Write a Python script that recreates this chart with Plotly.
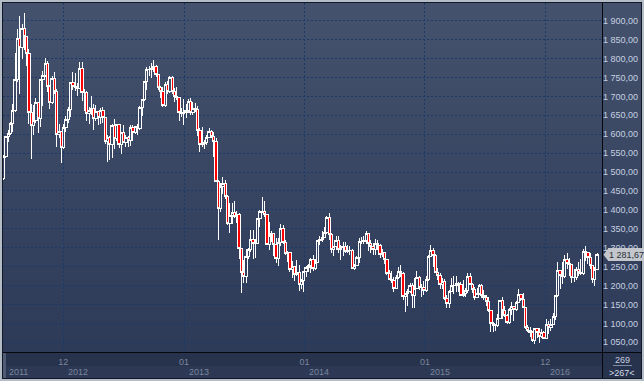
import base64
import pandas as pd
import plotly.graph_objects as go

# ---------------- data (weekly gold candles) ----------------
week_start = "2011-07-04"
n_weeks = 258

open_ = [
    1483, 1542, 1594, 1601, 1628, 1663, 1744, 1852, 1828, 1880, 1857, 1813, 1657, 1624, 1635, 1683, 1642, 1745, 1754, 1788, 1725, 1684, 1746, 1712, 1598, 1606,
    1566, 1617, 1639, 1665, 1736, 1725, 1724, 1722, 1775, 1710, 1711, 1656, 1662, 1669, 1641, 1659, 1643, 1663, 1645, 1580, 1592, 1572, 1622, 1590, 1627, 1572,
    1604, 1579, 1592, 1584, 1618, 1604, 1621, 1616, 1671, 1692, 1739, 1771, 1772, 1773, 1780, 1757, 1724, 1712, 1676, 1731, 1714, 1751, 1712, 1701, 1696, 1658,
    1656, 1657, 1662, 1687, 1658, 1667, 1666, 1609, 1572, 1576, 1577, 1592, 1608, 1595, 1581, 1476, 1404, 1462, 1470, 1436, 1365, 1386, 1392, 1383, 1387, 1297,
    1234, 1223, 1277, 1295, 1322, 1310, 1312, 1376, 1396, 1395, 1387, 1308, 1332, 1337, 1309, 1272, 1315, 1352, 1314, 1284, 1288, 1243, 1250, 1230, 1235, 1203,
    1214, 1237, 1247, 1254, 1270, 1244, 1262, 1318, 1323, 1326, 1339, 1379, 1335, 1294, 1303, 1318, 1294, 1301, 1302, 1290, 1293, 1292, 1245, 1252, 1274, 1316,
    1317, 1320, 1337, 1310, 1303, 1294, 1310, 1305, 1281, 1287, 1268, 1231, 1215, 1214, 1192, 1222, 1238, 1231, 1171, 1178, 1185, 1201, 1175, 1191, 1222, 1195,
    1196, 1186, 1217, 1277, 1293, 1279, 1234, 1227, 1204, 1212, 1165, 1152, 1183, 1199, 1201, 1206, 1203, 1175, 1178, 1188, 1225, 1204, 1189, 1168, 1180, 1201,
    1173, 1168, 1157, 1133, 1099, 1095, 1094, 1113, 1160, 1134, 1121, 1103, 1137, 1145, 1137, 1156, 1177, 1162, 1142, 1088, 1081, 1076, 1056, 1087, 1075, 1065, 1076,
    1061, 1097, 1089, 1097, 1117, 1173, 1239, 1227, 1223, 1270, 1259, 1255, 1221, 1222, 1243, 1234, 1231, 1290, 1288, 1273, 1252, 1216, 1243,
]
high = [
    1545, 1595, 1610, 1631, 1681, 1815, 1877, 1912, 1890, 1921, 1860, 1825, 1680, 1677, 1695, 1686, 1747, 1767, 1802, 1793, 1729, 1753, 1764, 1719, 1628, 1609,
    1627, 1648, 1673, 1739, 1764, 1763, 1736, 1790, 1792, 1719, 1714, 1672, 1702, 1680, 1677, 1660, 1668, 1672, 1646, 1597, 1595, 1627, 1640, 1628, 1628, 1606,
    1625, 1597, 1596, 1625, 1625, 1623, 1626, 1675, 1694, 1740, 1777, 1780, 1788, 1796, 1784, 1759, 1728, 1724, 1737, 1740, 1754, 1755, 1722, 1725, 1697, 1668,
    1694, 1680, 1693, 1696, 1684, 1683, 1674, 1616, 1619, 1584, 1597, 1616, 1610, 1605, 1590, 1480, 1470, 1488, 1478, 1440, 1417, 1418, 1424, 1396, 1392, 1298,
    1268, 1296, 1298, 1348, 1346, 1324, 1377, 1400, 1434, 1424, 1390, 1368, 1345, 1338, 1327, 1326, 1362, 1361, 1321, 1292, 1290, 1265, 1252, 1268, 1255, 1218,
    1238, 1251, 1256, 1272, 1280, 1269, 1320, 1332, 1345, 1355, 1384, 1392, 1338, 1305, 1331, 1331, 1306, 1315, 1315, 1306, 1305, 1296, 1256, 1277, 1325, 1328,
    1332, 1345, 1340, 1320, 1312, 1322, 1320, 1310, 1297, 1290, 1269, 1240, 1238, 1222, 1227, 1250, 1255, 1235, 1180, 1191, 1207, 1207, 1221, 1238, 1225, 1203,
    1213, 1224, 1282, 1307, 1299, 1284, 1246, 1232, 1220, 1218, 1175, 1188, 1219, 1225, 1224, 1209, 1210, 1214, 1194, 1232, 1232, 1207, 1196, 1194, 1205, 1205,
    1187, 1175, 1170, 1135, 1105, 1099, 1126, 1162, 1170, 1147, 1126, 1140, 1157, 1146, 1160, 1191, 1178, 1180, 1143, 1095, 1091, 1080, 1088, 1088, 1088, 1085, 1081,
    1112, 1106, 1112, 1127, 1175, 1263, 1240, 1261, 1280, 1287, 1273, 1256, 1244, 1250, 1262, 1270, 1296, 1304, 1290, 1286, 1253, 1248, 1285,
]
low = [
    1480, 1538, 1579, 1597, 1606, 1660, 1737, 1705, 1800, 1823, 1780, 1628, 1535, 1598, 1630, 1603, 1618, 1674, 1750, 1711, 1667, 1680, 1707, 1565, 1590, 1523,
    1562, 1606, 1629, 1645, 1717, 1713, 1702, 1720, 1688, 1662, 1634, 1628, 1652, 1612, 1634, 1625, 1627, 1629, 1574, 1527, 1532, 1537, 1561, 1581, 1563, 1547,
    1576, 1565, 1567, 1570, 1582, 1600, 1597, 1612, 1648, 1688, 1718, 1753, 1749, 1765, 1752, 1718, 1697, 1673, 1672, 1707, 1710, 1705, 1684, 1690, 1636, 1645,
    1625, 1644, 1656, 1652, 1651, 1660, 1596, 1554, 1565, 1562, 1572, 1590, 1590, 1540, 1473, 1321, 1395, 1443, 1430, 1359, 1338, 1364, 1378, 1366, 1269, 1180,
    1207, 1207, 1271, 1290, 1270, 1274, 1310, 1354, 1392, 1381, 1306, 1294, 1316, 1277, 1259, 1251, 1305, 1310, 1281, 1262, 1235, 1221, 1211, 1225, 1185, 1190,
    1182, 1222, 1236, 1232, 1238, 1240, 1260, 1307, 1316, 1325, 1336, 1321, 1286, 1277, 1293, 1285, 1268, 1277, 1285, 1287, 1282, 1244, 1240, 1251, 1259, 1310,
    1310, 1310, 1292, 1286, 1281, 1282, 1295, 1273, 1276, 1258, 1228, 1214, 1206, 1183, 1190, 1218, 1223, 1161, 1131, 1146, 1180, 1142, 1142, 1190, 1187, 1170,
    1176, 1183, 1213, 1276, 1250, 1232, 1216, 1191, 1191, 1162, 1142, 1142, 1182, 1177, 1183, 1183, 1173, 1169, 1170, 1180, 1201, 1180, 1162, 1166, 1175, 1168,
    1161, 1146, 1130, 1077, 1077, 1080, 1091, 1111, 1112, 1118, 1098, 1098, 1123, 1106, 1133, 1155, 1159, 1141, 1084, 1078, 1065, 1052, 1046, 1062, 1049, 1062, 1058,
    1061, 1072, 1081, 1096, 1109, 1170, 1191, 1205, 1219, 1245, 1225, 1208, 1209, 1215, 1224, 1228, 1228, 1266, 1258, 1245, 1208, 1200, 1241,
]
close = [
    1542, 1594, 1601, 1628, 1663, 1744, 1852, 1828, 1880, 1857, 1813, 1657, 1624, 1635, 1683, 1642, 1745, 1754, 1788, 1725, 1684, 1746, 1712, 1598, 1606, 1566,
    1617, 1639, 1665, 1736, 1725, 1724, 1722, 1775, 1710, 1711, 1656, 1662, 1669, 1641, 1659, 1643, 1663, 1645, 1580, 1592, 1572, 1622, 1590, 1627, 1572, 1604,
    1579, 1592, 1584, 1618, 1604, 1621, 1616, 1671, 1692, 1739, 1771, 1772, 1773, 1780, 1757, 1724, 1712, 1676, 1731, 1714, 1751, 1712, 1701, 1696, 1658, 1656,
    1657, 1662, 1687, 1658, 1667, 1666, 1609, 1572, 1576, 1577, 1592, 1608, 1595, 1581, 1476, 1404, 1462, 1470, 1436, 1365, 1386, 1392, 1383, 1387, 1297, 1234,
    1223, 1277, 1295, 1322, 1310, 1312, 1376, 1396, 1395, 1387, 1308, 1332, 1337, 1309, 1272, 1315, 1352, 1314, 1284, 1288, 1243, 1250, 1230, 1235, 1203, 1214,
    1237, 1247, 1254, 1270, 1244, 1262, 1318, 1323, 1326, 1339, 1379, 1335, 1294, 1303, 1318, 1294, 1301, 1302, 1290, 1293, 1292, 1245, 1252, 1274, 1316, 1317,
    1320, 1337, 1310, 1303, 1294, 1310, 1305, 1281, 1287, 1268, 1231, 1215, 1214, 1192, 1222, 1238, 1231, 1171, 1178, 1185, 1201, 1175, 1191, 1222, 1195, 1196,
    1186, 1217, 1277, 1293, 1279, 1234, 1227, 1204, 1212, 1165, 1152, 1183, 1199, 1201, 1206, 1203, 1175, 1178, 1188, 1225, 1204, 1189, 1168, 1180, 1201, 1173,
    1168, 1157, 1133, 1099, 1095, 1094, 1113, 1160, 1134, 1121, 1103, 1137, 1145, 1137, 1156, 1177, 1162, 1142, 1088, 1081, 1076, 1056, 1087, 1075, 1065, 1076, 1061,
    1097, 1089, 1097, 1117, 1173, 1239, 1227, 1223, 1270, 1259, 1255, 1221, 1222, 1243, 1234, 1231, 1290, 1288, 1273, 1252, 1216, 1243, 1281.67,
]

y_ticks = [1050, 1100, 1150, 1200, 1250, 1300, 1350, 1400, 1450, 1500, 1550, 1600,
           1650, 1700, 1750, 1800, 1850, 1900]
y_tick_labels = ["1 050,00", "1 100,00", "1 150,00", "1 200,00", "1 250,00", "1 300,00",
                 "1 350,00", "1 400,00", "1 450,00", "1 500,00", "1 550,00", "1 600,00",
                 "1 650,00", "1 700,00", "1 750,00", "1 800,00", "1 850,00", "1 900,00"]
x_ticks = ["2012-01-01", "2013-01-01", "2014-01-01", "2015-01-01", "2016-01-01"]
x_tick_labels = ["12", "01", "01", "01", "12"]
year_labels = ["2011", "2012", "2013", "2014", "2015", "2016"]
year_starts = ["2011-07-04", "2012-01-01", "2013-01-01", "2014-01-01", "2015-01-01", "2016-01-01"]
last_price_label = "1 281,67"
bar_count_labels = ["269", ">267<"]

dates = pd.date_range(week_start, periods=n_weeks, freq="7D")

# ---------------- layout geometry ----------------
W, H = 644, 381
ML, MR, MT, MB = 3, 42, 3, 29
PW, PH = W - ML - MR, H - MT - MB

def px_x(px):
    return (px - ML) / PW

def px_y(py):
    return 1 - (py - MT) / PH

svg = f"""<svg xmlns='http://www.w3.org/2000/svg' width='{W}' height='{H}' viewBox='0 0 {W} {H}' shape-rendering='crispEdges'>
<defs><linearGradient id='g' x1='0' y1='0' x2='0' y2='1'>
<stop offset='0' stop-color='#44526d'/><stop offset='1' stop-color='#2d3a58'/></linearGradient></defs>
<rect width='{W}' height='{H}' fill='#b4bcc8'/>
<rect x='2' y='2' width='640' height='377' fill='#121826'/>
<rect x='3' y='3' width='638' height='349' fill='url(#g)'/>
<rect x='3' y='353' width='638' height='25' fill='#27324c'/>
<rect x='3' y='366' width='599' height='12' fill='#2c3854'/>
<rect x='3' y='352' width='638' height='1' fill='#05070c'/>
<rect x='602' y='3' width='1' height='375' fill='#05070c'/>
<rect x='3' y='353' width='3' height='25' fill='#4f5b72'/>
<rect x='613' y='365' width='19' height='1' fill='#7f8ba0'/>
</svg>"""
svg_uri = "data:image/svg+xml;base64," + base64.b64encode(svg.encode()).decode()

fig = go.Figure()
fig.add_trace(go.Candlestick(
    x=dates, open=open_, high=high, low=low, close=close,
    increasing=dict(line=dict(color="#ffffff", width=1), fillcolor="rgba(0,0,0,0)"),
    decreasing=dict(line=dict(color="#ffffff", width=1), fillcolor="#ff0000"),
    whiskerwidth=0, hoverinfo="skip", showlegend=False,
))

font_family = "Liberation Sans, Arial, sans-serif"

fig.update_layout(
    width=W, height=H,
    margin=dict(l=ML, r=MR, t=MT, b=MB, pad=0),
    paper_bgcolor="#b4bcc8", plot_bgcolor="rgba(0,0,0,0)",
    boxgap=0, boxgroupgap=0,
    font=dict(family=font_family, size=9),
    images=[dict(source=svg_uri, xref="paper", yref="paper",
                 x=px_x(0), y=px_y(0), sizex=W / PW, sizey=H / PH,
                 xanchor="left", yanchor="top", sizing="stretch", layer="below")],
    xaxis=dict(
        type="date", range=["2011-07-02 05:00", "2016-06-20 21:00"],
        rangeslider=dict(visible=False),
        tickvals=x_ticks, ticktext=x_tick_labels, ticks="", ticklabelstandoff=3,
        tickfont=dict(color="#7c889d", size=9, family=font_family),
        showgrid=True, gridcolor="#1c396b", gridwidth=1, griddash="2px,2px",
        zeroline=False, showline=False, fixedrange=True, automargin=False,
    ),
    yaxis=dict(
        side="right", range=[1024.4, 1946.8],
        tickvals=y_ticks, ticktext=y_tick_labels, ticks="",
        tickfont=dict(color="#c6d0e0", size=9, family=font_family),
        showgrid=True, gridcolor="#1c396b", gridwidth=1, griddash="2px,2px",
        zeroline=False, showline=False, fixedrange=True, automargin=False,
    ),
)

annotations = []
for label, start in zip(year_labels, year_starts):
    annotations.append(dict(x=start, xref="x", y=px_y(372), yref="paper",
                            text=label, showarrow=False, xanchor="left", yanchor="middle",
                            xshift=3, font=dict(color="#7a869b", size=9, family=font_family)))
annotations.append(dict(x=px_x(622), xref="paper", y=px_y(359.5), yref="paper",
                        text=bar_count_labels[0], showarrow=False, xanchor="center", yanchor="middle",
                        font=dict(color="#c6d0e0", size=9, family=font_family)))
annotations.append(dict(x=px_x(622), xref="paper", y=px_y(372.5), yref="paper",
                        text=bar_count_labels[1], showarrow=False, xanchor="center", yanchor="middle",
                        font=dict(color="#d6dde8", size=9, family=font_family)))
annotations.append(dict(x=px_x(608), xref="paper", y=close[-1], yref="y",
                        text=last_price_label, showarrow=False, xanchor="left", yanchor="middle",
                        bgcolor="#c3c7cd", borderwidth=0, borderpad=1, height=11, width=36,
                        align="left", font=dict(color="#2a2e36", size=9, family=font_family)))
fig.update_layout(annotations=annotations)

fig.add_shape(type="path", xref="paper", yref="y", xsizemode="pixel", ysizemode="pixel",
              xanchor=px_x(608), yanchor=close[-1],
              path="M -4.5,0 L 0.5,6.6 L 0.5,-6.6 Z",
              fillcolor="#c3c7cd", line=dict(width=0), layer="above")

post = (
    "document.body.style.margin='0px';document.body.style.overflow='hidden';"
    "document.querySelectorAll('.boxlayer path').forEach(function(p){p.style.shapeRendering='crispEdges';});"
)
fig.write_html("out.html", config=dict(displayModeBar=False, staticPlot=True), post_script=post)
